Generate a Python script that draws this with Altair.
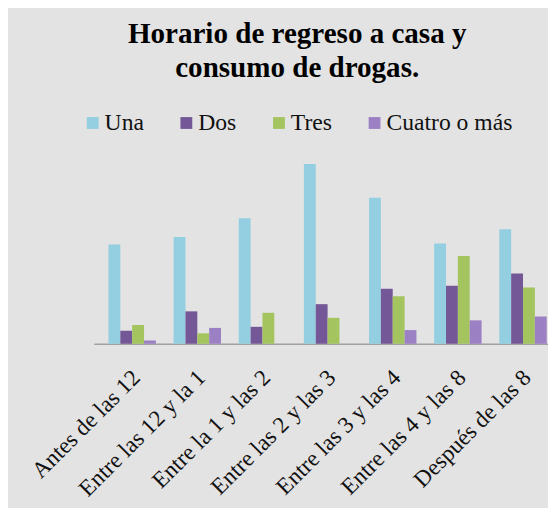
import altair as alt
import pandas as pd

categories = ["Antes de las 12", "Entre las 12 y la 1", "Entre la 1 y las 2",
              "Entre las 2 y las 3", "Entre las 3 y las 4", "Entre las 4 y las 8",
              "Después de las 8"]
series = ["Una", "Dos", "Tres", "Cuatro o más"]
una = [27.6, 29.7, 34.9, 50.0, 40.6, 27.9, 31.8]
dos = [3.6, 9.0, 4.7, 11.0, 15.3, 16.1, 19.5]
tres = [5.2, 2.9, 8.6, 7.2, 13.2, 24.4, 15.6]
cuatro = [0.9, 4.4, 0.0, 0.0, 3.8, 6.5, 7.6]
colors = ["#93cfe0", "#735796", "#a4c45f", "#9b80c4"]

rows = []
for name, vals in zip(series, [una, dos, tres, cuatro]):
    for c, v in zip(categories, vals):
        rows.append({"Horario": c, "Consumo": name, "Valor": v})
df = pd.DataFrame(rows)

serif = "Liberation Serif"

chart = alt.Chart(df).mark_bar().encode(
    x=alt.X("Horario:N", sort=categories, title=None,
            scale=alt.Scale(paddingInner=0.272, paddingOuter=0.123, align=0.92),
            axis=alt.Axis(labelAngle=-45, labelFont=serif, labelFontSize=23.5,
                          labelColor="#111111", ticks=False, domainColor="#a0a0a0",
                          domainWidth=1.5, labelPadding=22, labelOffset=-4,
                          labelOverlap=False)),
    xOffset=alt.XOffset("Consumo:N", sort=series,
                        scale=alt.Scale(paddingInner=0, paddingOuter=0)),
    y=alt.Y("Valor:Q", scale=alt.Scale(domain=[0, 60], nice=False), axis=None),
    color=alt.Color("Consumo:N", sort=series,
                    scale=alt.Scale(domain=series, range=colors),
                    legend=alt.Legend(orient="none", legendX=-13, legendY=-17,
                                      direction="horizontal", title=None,
                                      symbolType="square", symbolSize=144,
                                      symbolStrokeWidth=0, labelFont=serif,
                                      labelFontSize=24, labelColor="#111111",
                                      columnPadding=31, labelOffset=0, padding=0)),
).properties(
    width=461, height=219,
    title=alt.TitleParams(["Horario de regreso a casa y", "consumo de drogas."],
                          font=serif, fontSize=29.5, fontWeight="bold",
                          color="#000000", anchor="middle", dx=-24,
                          lineHeight=35, offset=28),
    background="#e3e3e3",
    padding={"left": 87, "top": 118, "right": 0, "bottom": 163},
    autosize="none",
).configure_view(stroke="transparent").configure_legend(labelFont=serif)

chart.save("out.html", embed_options={"renderer": "svg", "actions": False})
